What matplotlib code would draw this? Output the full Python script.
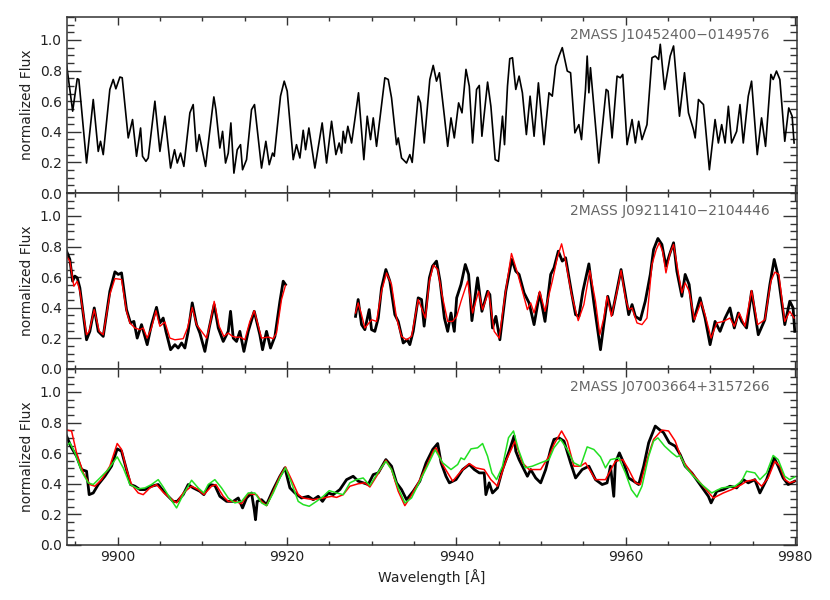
import numpy as np
import matplotlib
matplotlib.use("Agg")
import matplotlib.pyplot as plt
from matplotlib.ticker import MultipleLocator, FormatStrFormatter

# --- top panel: observed spectrum
top_wl = [9893.98, 9894.70, 9895.24, 9895.43, 9896.34, 9897.13, 9897.72, 9897.99, 9898.31, 9899.09,
          9899.49, 9899.80, 9900.28, 9900.55, 9901.26, 9901.77, 9902.24, 9902.72, 9902.95, 9903.35,
          9903.62, 9904.41, 9905.00, 9905.59, 9906.26, 9906.73, 9907.05, 9907.44, 9907.83, 9908.54,
          9908.93, 9909.33, 9909.64, 9910.39, 9911.37, 9911.61, 9912.08, 9912.40, 9912.75, 9913.07,
          9913.38, 9913.74, 9914.13, 9914.52, 9914.76, 9915.23, 9915.82, 9916.17, 9917.00, 9917.51,
          9917.91, 9918.30, 9918.50, 9919.24, 9919.68, 9920.03, 9920.74, 9921.13, 9921.53, 9921.92,
          9922.20, 9922.59, 9923.30, 9924.16, 9924.68, 9925.27, 9925.78, 9926.17, 9926.45, 9926.64,
          9926.88, 9927.19, 9927.63, 9928.02, 9928.45, 9929.08, 9929.48, 9929.87, 9930.19, 9930.58,
          9931.56, 9931.96, 9932.35, 9932.94, 9933.14, 9933.53, 9934.12, 9934.51, 9934.79, 9935.50,
          9935.77, 9936.21, 9936.87, 9937.27, 9937.66, 9938.00, 9938.59, 9938.98, 9939.37, 9939.76,
          9940.27, 9940.67, 9941.14, 9941.53, 9941.92, 9942.39, 9942.71, 9943.02, 9943.69, 9944.08,
          9944.59, 9944.98, 9945.45, 9945.69, 9946.04, 9946.31, 9946.63, 9947.02, 9947.41, 9947.80,
          9948.27, 9948.71, 9949.18, 9949.69, 9950.35, 9950.94, 9951.33, 9951.73, 9952.12, 9952.51,
          9953.10, 9953.49, 9954.00, 9954.47, 9954.78, 9955.25, 9955.45, 9955.65, 9955.84, 9956.82,
          9957.69, 9957.92, 9958.39, 9958.98, 9959.37, 9959.65, 9960.16, 9960.75, 9961.14, 9961.53,
          9961.92, 9962.51, 9963.10, 9963.49, 9963.88, 9964.08, 9964.59, 9965.25, 9965.65, 9966.35,
          9966.94, 9967.41, 9968.00, 9968.20, 9968.59, 9969.18, 9969.88, 9970.55, 9970.94, 9971.33,
          9971.73, 9972.12, 9972.51, 9973.10, 9973.49, 9973.88, 9974.47, 9974.86, 9975.53, 9976.04,
          9976.51, 9977.14, 9977.41, 9977.80, 9978.20, 9978.78, 9979.25, 9979.65, 9979.88]
top_flux = [0.840, 0.535, 0.747, 0.742, 0.196, 0.611, 0.272, 0.338, 0.251, 0.677,
            0.742, 0.681, 0.758, 0.753, 0.360, 0.480, 0.240, 0.425, 0.240, 0.207,
            0.229, 0.600, 0.272, 0.502, 0.163, 0.283, 0.196, 0.261, 0.174, 0.524,
            0.578, 0.272, 0.382, 0.174, 0.628, 0.545, 0.294, 0.403, 0.196, 0.261,
            0.458, 0.130, 0.283, 0.316, 0.152, 0.218, 0.545, 0.578, 0.163, 0.338,
            0.185, 0.261, 0.240, 0.633, 0.731, 0.666, 0.218, 0.316, 0.229, 0.410,
            0.283, 0.425, 0.163, 0.458, 0.196, 0.469, 0.251, 0.327, 0.261, 0.403,
            0.327, 0.436, 0.327, 0.480, 0.655, 0.218, 0.502, 0.349, 0.491, 0.305,
            0.753, 0.742, 0.622, 0.316, 0.360, 0.229, 0.196, 0.251, 0.200, 0.633,
            0.589, 0.327, 0.742, 0.834, 0.731, 0.786, 0.502, 0.305, 0.491, 0.360,
            0.589, 0.524, 0.808, 0.698, 0.327, 0.677, 0.703, 0.371, 0.725, 0.567,
            0.218, 0.207, 0.502, 0.316, 0.698, 0.878, 0.884, 0.677, 0.764, 0.655,
            0.382, 0.633, 0.371, 0.720, 0.316, 0.655, 0.633, 0.830, 0.895, 0.950,
            0.797, 0.786, 0.393, 0.447, 0.349, 0.677, 0.895, 0.655, 0.819, 0.196,
            0.677, 0.666, 0.360, 0.764, 0.753, 0.775, 0.316, 0.480, 0.327, 0.469,
            0.349, 0.447, 0.884, 0.895, 0.873, 0.972, 0.677, 0.895, 0.961, 0.502,
            0.786, 0.524, 0.414, 0.360, 0.611, 0.578, 0.152, 0.480, 0.327, 0.447,
            0.327, 0.567, 0.327, 0.403, 0.578, 0.327, 0.633, 0.731, 0.251, 0.491,
            0.305, 0.775, 0.742, 0.797, 0.742, 0.338, 0.556, 0.502, 0.327]

# --- middle panel: observed (black) and model (red); NaN marks the data gap
mid_obs_wl = [9893.98, 9894.37, 9894.69, 9894.96, 9895.24, 9895.55, 9896.34, 9896.73, 9897.25, 9897.72,
              9898.31, 9899.09, 9899.69, 9900.08, 9900.47, 9901.06, 9901.53, 9901.93, 9902.32, 9902.83,
              9903.50, 9904.01, 9904.60, 9905.00, 9905.39, 9905.71, 9906.26, 9906.77, 9907.16, 9907.56,
              9907.95, 9908.34, 9908.82, 9909.33, 9909.72, 9910.31, 9910.82, 9911.41, 9911.89, 9912.48,
              9913.07, 9913.34, 9913.66, 9914.05, 9914.44, 9914.92, 9915.43, 9916.14, 9916.80, 9917.12,
              9917.59, 9918.06, 9918.58, 9919.17, 9919.56, 9919.83, 9924.00,
              9928.10, 9928.41, 9928.81, 9929.20, 9929.71, 9929.99, 9930.38, 9930.78, 9931.17, 9931.68,
              9932.15, 9932.74, 9933.14, 9933.73, 9934.20, 9934.51, 9934.91, 9935.50, 9935.89, 9936.20,
              9936.82, 9937.19, 9937.66, 9938.08, 9938.59, 9938.98, 9939.37, 9939.76, 9940.04, 9940.55,
              9941.06, 9941.45, 9941.84, 9942.51, 9943.02, 9943.69, 9943.96, 9944.27, 9944.67, 9945.14,
              9945.84, 9946.55, 9947.02, 9947.41, 9948.00, 9948.59, 9949.18, 9949.84, 9950.47, 9951.14,
              9951.53, 9952.04, 9952.51, 9952.90, 9953.61, 9954.08, 9954.47, 9954.94, 9955.65, 9956.24,
              9957.02, 9957.41, 9957.88, 9958.39, 9959.10, 9959.45, 9959.96, 9960.35, 9960.75, 9961.14,
              9961.73, 9962.31, 9962.90, 9963.29, 9963.80, 9964.27, 9964.75, 9965.18, 9965.65, 9966.04,
              9966.63, 9967.02, 9967.49, 9968.00, 9968.78, 9969.37, 9969.96, 9970.55, 9971.14, 9971.73,
              9972.31, 9972.82, 9973.29, 9973.69, 9974.27, 9974.86, 9975.65, 9976.43, 9977.02, 9977.53,
              9978.00, 9978.78, 9979.37, 9979.76, 9979.96]
mid_obs_flux = [0.770, 0.716, 0.574, 0.607, 0.596, 0.530, 0.191, 0.246, 0.399, 0.246,
                0.213, 0.508, 0.635, 0.618, 0.628, 0.388, 0.301, 0.311, 0.202, 0.290,
                0.159, 0.290, 0.403, 0.301, 0.333, 0.246, 0.126, 0.159, 0.137, 0.170,
                0.137, 0.246, 0.432, 0.290, 0.235, 0.115, 0.268, 0.421, 0.268, 0.180,
                0.246, 0.377, 0.202, 0.180, 0.246, 0.115, 0.246, 0.377, 0.224, 0.126,
                0.246, 0.137, 0.213, 0.442, 0.574, 0.552, np.nan,
                0.344, 0.454, 0.290, 0.257, 0.388, 0.257, 0.246, 0.333, 0.530, 0.650,
                0.574, 0.355, 0.311, 0.170, 0.191, 0.159, 0.246, 0.465, 0.454, 0.280,
                0.596, 0.672, 0.705, 0.574, 0.333, 0.246, 0.366, 0.246, 0.465, 0.552,
                0.683, 0.618, 0.316, 0.596, 0.377, 0.508, 0.486, 0.268, 0.344, 0.191,
                0.508, 0.716, 0.639, 0.618, 0.497, 0.432, 0.290, 0.497, 0.311, 0.618,
                0.661, 0.770, 0.705, 0.727, 0.497, 0.355, 0.344, 0.508, 0.687, 0.432,
                0.126, 0.290, 0.475, 0.355, 0.552, 0.650, 0.486, 0.355, 0.421, 0.344,
                0.322, 0.443, 0.618, 0.781, 0.853, 0.814, 0.672, 0.749, 0.825, 0.639,
                0.475, 0.618, 0.552, 0.311, 0.465, 0.333, 0.159, 0.311, 0.246, 0.333,
                0.399, 0.268, 0.366, 0.311, 0.268, 0.508, 0.224, 0.322, 0.552, 0.716,
                0.607, 0.290, 0.443, 0.399, 0.246]

mid_mod_wl = [9893.98, 9894.37, 9894.84, 9895.24, 9895.55, 9896.34, 9896.65, 9897.25, 9897.84, 9898.31,
              9899.09, 9899.69, 9900.47, 9901.06, 9901.46, 9902.05, 9902.64, 9903.03, 9903.50, 9904.01,
              9904.53, 9905.00, 9905.59, 9906.18, 9906.77, 9907.75, 9908.26, 9908.82, 9909.33, 9909.92,
              9910.51, 9910.90, 9911.41, 9912.00, 9912.55, 9913.07, 9913.58, 9914.05, 9914.44, 9915.03,
              9915.62, 9916.14, 9917.00, 9917.79, 9918.38, 9918.77, 9919.36, 9919.83, 9924.00,
              9928.10, 9928.41, 9928.81, 9929.20, 9929.99, 9930.58, 9931.17, 9931.76, 9932.35, 9932.94,
              9933.53, 9934.12, 9934.71, 9935.50, 9936.35, 9936.82, 9937.29, 9937.80, 9938.31, 9938.98,
              9939.57, 9940.04, 9940.55, 9941.33, 9941.92, 9942.63, 9943.10, 9943.80, 9944.47, 9945.06,
              9945.76, 9946.51, 9947.22, 9947.80, 9948.39, 9948.78, 9949.18, 9949.84, 9950.47, 9951.33,
              9951.92, 9952.43, 9952.90, 9953.61, 9954.39, 9955.06, 9955.76, 9956.43, 9956.94, 9957.41,
              9957.80, 9958.31, 9958.98, 9959.45, 9959.96, 9960.35, 9960.75, 9961.33, 9961.92, 9962.51,
              9963.10, 9963.61, 9963.96, 9964.35, 9964.75, 9965.25, 9965.65, 9966.24, 9966.63, 9967.02,
              9967.49, 9968.12, 9968.90, 9969.37, 9970.08, 9970.75, 9971.53, 9972.31, 9972.82, 9973.41,
              9974.08, 9974.86, 9975.57, 9976.43, 9977.14, 9977.61, 9978.08, 9978.78, 9979.37, 9979.88]
mid_mod_flux = [0.738, 0.705, 0.541, 0.573, 0.508, 0.224, 0.246, 0.388, 0.246, 0.224,
                0.486, 0.591, 0.585, 0.377, 0.301, 0.268, 0.257, 0.268, 0.202, 0.268,
                0.381, 0.279, 0.307, 0.202, 0.191, 0.198, 0.268, 0.403, 0.290, 0.246,
                0.202, 0.290, 0.442, 0.279, 0.213, 0.235, 0.213, 0.207, 0.209, 0.191,
                0.311, 0.381, 0.202, 0.209, 0.198, 0.235, 0.454, 0.547, np.nan,
                0.366, 0.432, 0.355, 0.268, 0.322, 0.311, 0.508, 0.628, 0.552, 0.333,
                0.213, 0.191, 0.213, 0.454, 0.333, 0.574, 0.679, 0.650, 0.486, 0.311,
                0.311, 0.344, 0.442, 0.574, 0.366, 0.508, 0.388, 0.508, 0.246, 0.202,
                0.486, 0.755, 0.628, 0.508, 0.388, 0.432, 0.366, 0.508, 0.377, 0.574,
                0.727, 0.818, 0.705, 0.486, 0.316, 0.421, 0.644, 0.442, 0.224, 0.333,
                0.475, 0.344, 0.508, 0.644, 0.465, 0.388, 0.399, 0.301, 0.290, 0.333,
                0.683, 0.781, 0.825, 0.770, 0.628, 0.759, 0.814, 0.618, 0.497, 0.563,
                0.508, 0.322, 0.438, 0.355, 0.202, 0.301, 0.311, 0.333, 0.279, 0.366,
                0.279, 0.513, 0.290, 0.322, 0.574, 0.633, 0.618, 0.311, 0.377, 0.333]

# --- bottom panel: observed (black), red model, green model
bot_obs_wl = [9893.98, 9894.57, 9895.16, 9895.75, 9896.34, 9896.65, 9897.13, 9897.72, 9898.50, 9899.29,
              9899.96, 9900.47, 9901.06, 9901.53, 9902.05, 9902.64, 9903.23, 9904.01, 9904.80, 9905.59,
              9906.18, 9906.57, 9907.04, 9907.75, 9908.34, 9908.93, 9909.72, 9910.19, 9910.90, 9911.49,
              9912.08, 9912.87, 9913.66, 9914.25, 9914.76, 9915.23, 9915.82, 9916.14, 9916.29, 9916.49,
              9917.00, 9917.59, 9918.38, 9919.17, 9919.76, 9920.35, 9920.94, 9921.72, 9922.51, 9923.10,
              9923.69, 9924.20, 9924.87, 9925.46, 9926.25, 9927.04, 9927.82, 9928.41, 9929.00, 9929.59,
              9930.19, 9930.78, 9931.68, 9932.35, 9932.94, 9933.53, 9934.12, 9934.91, 9935.69, 9936.43,
              9937.22, 9937.80, 9938.20, 9938.78, 9939.18, 9939.96, 9940.75, 9941.53, 9942.12, 9942.71,
              9943.29, 9943.49, 9943.88, 9944.27, 9944.86, 9945.45, 9946.24, 9946.82, 9947.02, 9947.41,
              9948.00, 9948.39, 9948.78, 9949.37, 9949.96, 9950.55, 9951.14, 9951.53, 9952.12, 9952.71,
              9953.49, 9954.08, 9954.86, 9955.65, 9956.43, 9957.22, 9957.80, 9958.20, 9958.59, 9958.78,
              9959.25, 9959.76, 9960.35, 9960.94, 9961.53, 9962.12, 9962.71, 9963.49, 9963.96, 9964.47,
              9965.14, 9965.84, 9966.43, 9967.02, 9967.80, 9968.78, 9969.76, 9970.08, 9970.75, 9971.53,
              9972.31, 9973.10, 9973.88, 9974.47, 9975.25, 9975.84, 9976.63, 9977.53, 9978.00, 9978.59,
              9979.18, 9979.96]
bot_obs_flux = [0.712, 0.635, 0.580, 0.493, 0.482, 0.329, 0.340, 0.395, 0.449, 0.515,
                0.628, 0.613, 0.493, 0.395, 0.384, 0.362, 0.362, 0.384, 0.395, 0.340,
                0.307, 0.285, 0.285, 0.329, 0.395, 0.373, 0.351, 0.329, 0.395, 0.389,
                0.318, 0.285, 0.285, 0.307, 0.242, 0.307, 0.340, 0.231, 0.165, 0.285,
                0.296, 0.264, 0.362, 0.449, 0.504, 0.373, 0.340, 0.307, 0.318, 0.296,
                0.318, 0.285, 0.340, 0.329, 0.362, 0.427, 0.449, 0.417, 0.406, 0.395,
                0.460, 0.471, 0.558, 0.515, 0.406, 0.362, 0.296, 0.351, 0.417, 0.537,
                0.625, 0.663, 0.537, 0.449, 0.406, 0.427, 0.493, 0.526, 0.493, 0.471,
                0.471, 0.329, 0.406, 0.340, 0.373, 0.493, 0.613, 0.712, 0.613, 0.558,
                0.493, 0.449, 0.493, 0.438, 0.406, 0.493, 0.625, 0.690, 0.700, 0.679,
                0.537, 0.438, 0.493, 0.515, 0.427, 0.395, 0.406, 0.515, 0.318, 0.537,
                0.602, 0.537, 0.438, 0.417, 0.395, 0.515, 0.668, 0.777, 0.755, 0.734,
                0.668, 0.646, 0.591, 0.515, 0.471, 0.395, 0.318, 0.275, 0.351, 0.362,
                0.384, 0.373, 0.427, 0.406, 0.427, 0.340, 0.427, 0.569, 0.515, 0.438,
                0.395, 0.417]

bot_red_wl = [9893.98, 9894.57, 9895.16, 9895.95, 9896.73, 9897.32, 9898.11, 9899.09, 9899.96, 9900.47,
              9901.06, 9901.65, 9902.44, 9903.03, 9903.82, 9904.60, 9905.39, 9906.18, 9906.97, 9907.75,
              9908.74, 9909.52, 9910.19, 9911.10, 9911.61, 9912.48, 9913.07, 9913.85, 9914.64, 9915.43,
              9916.41, 9917.00, 9917.59, 9918.38, 9919.17, 9919.83, 9920.54, 9921.33, 9921.92, 9923.10,
              9924.28, 9925.27, 9925.86, 9926.64, 9927.43, 9928.41, 9929.20, 9929.79, 9930.58, 9931.68,
              9932.35, 9933.14, 9933.92, 9934.51, 9935.50, 9936.48, 9937.27, 9937.61, 9938.39, 9939.57,
              9940.55, 9941.53, 9942.31, 9943.29, 9944.08, 9944.86, 9945.84, 9946.94, 9947.80, 9948.59,
              9949.96, 9950.94, 9951.53, 9952.43, 9953.10, 9953.88, 9954.67, 9955.25, 9956.43, 9957.61,
              9958.78, 9959.65, 9960.35, 9961.14, 9961.73, 9962.51, 9963.29, 9964.27, 9965.06, 9965.84,
              9966.63, 9967.80, 9968.98, 9970.35, 9971.53, 9972.51, 9973.69, 9974.27, 9975.25, 9976.04,
              9976.82, 9977.61, 9978.20, 9978.78, 9979.37, 9979.96]
bot_red_flux = [0.751, 0.745, 0.602, 0.471, 0.395, 0.384, 0.427, 0.515, 0.663, 0.625,
                0.493, 0.395, 0.340, 0.329, 0.373, 0.395, 0.345, 0.307, 0.275, 0.340,
                0.384, 0.362, 0.329, 0.384, 0.395, 0.318, 0.285, 0.285, 0.270, 0.335,
                0.329, 0.285, 0.257, 0.351, 0.449, 0.510, 0.427, 0.329, 0.307, 0.296,
                0.307, 0.318, 0.311, 0.329, 0.384, 0.400, 0.406, 0.379, 0.449, 0.554,
                0.493, 0.351, 0.257, 0.307, 0.406, 0.515, 0.613, 0.635, 0.525, 0.417,
                0.482, 0.532, 0.504, 0.493, 0.427, 0.384, 0.547, 0.679, 0.537, 0.493,
                0.493, 0.580, 0.657, 0.745, 0.679, 0.515, 0.515, 0.537, 0.427, 0.427,
                0.547, 0.558, 0.493, 0.406, 0.395, 0.558, 0.690, 0.751, 0.745, 0.679,
                0.558, 0.471, 0.395, 0.307, 0.340, 0.362, 0.395, 0.417, 0.427, 0.384,
                0.438, 0.547, 0.515, 0.427, 0.406, 0.417]

bot_green_wl = [9893.98, 9894.37, 9894.96, 9895.75, 9896.54, 9897.13, 9897.92, 9898.90, 9899.96, 9900.67,
                9901.46, 9902.44, 9903.23, 9904.01, 9904.80, 9905.39, 9906.18, 9906.97, 9907.75, 9908.74,
                9909.52, 9910.19, 9910.70, 9911.49, 9912.28, 9913.07, 9913.85, 9914.64, 9915.43, 9916.21,
                9917.00, 9917.59, 9918.38, 9919.17, 9919.83, 9920.54, 9921.33, 9921.92, 9922.63, 9923.49,
                9924.28, 9924.99, 9925.86, 9926.64, 9927.43, 9928.22, 9929.00, 9929.79, 9930.58, 9931.68,
                9932.35, 9933.14, 9933.92, 9934.71, 9935.50, 9936.48, 9937.50, 9938.39, 9939.37, 9940.16,
                9940.55, 9940.94, 9941.73, 9942.51, 9943.10, 9943.69, 9944.20, 9944.75, 9945.45, 9946.16,
                9946.75, 9947.33, 9948.12, 9948.98, 9949.96, 9950.94, 9951.53, 9952.31, 9953.10, 9953.88,
                9954.67, 9955.45, 9956.24, 9957.02, 9957.61, 9958.20, 9959.18, 9959.96, 9960.67, 9961.33,
                9961.92, 9962.71, 9963.29, 9963.80, 9964.59, 9965.45, 9966.04, 9966.43, 9967.02, 9967.80,
                9968.98, 9970.16, 9971.33, 9972.90, 9973.69, 9974.27, 9975.25, 9975.84, 9976.63, 9977.41,
                9978.00, 9978.78, 9979.37, 9979.96]
bot_green_flux = [0.647, 0.668, 0.602, 0.482, 0.406, 0.395, 0.438, 0.493, 0.576, 0.504,
                  0.395, 0.367, 0.373, 0.395, 0.427, 0.379, 0.307, 0.242, 0.329, 0.423,
                  0.373, 0.340, 0.395, 0.427, 0.373, 0.307, 0.275, 0.285, 0.340, 0.340,
                  0.275, 0.257, 0.340, 0.438, 0.504, 0.406, 0.285, 0.264, 0.253, 0.285,
                  0.318, 0.355, 0.340, 0.329, 0.406, 0.427, 0.438, 0.388, 0.460, 0.547,
                  0.493, 0.373, 0.275, 0.307, 0.395, 0.504, 0.622, 0.537, 0.493, 0.526,
                  0.569, 0.558, 0.628, 0.635, 0.663, 0.580, 0.471, 0.427, 0.515, 0.701,
                  0.745, 0.624, 0.504, 0.515, 0.537, 0.558, 0.635, 0.690, 0.624, 0.537,
                  0.515, 0.641, 0.624, 0.576, 0.504, 0.558, 0.569, 0.471, 0.362, 0.313,
                  0.384, 0.580, 0.679, 0.700, 0.646, 0.602, 0.576, 0.585, 0.515, 0.460,
                  0.395, 0.340, 0.373, 0.384, 0.417, 0.482, 0.471, 0.427, 0.471, 0.585,
                  0.558, 0.449, 0.427, 0.445]

names = ["2MASS J10452400\u22120149576", "2MASS J09211410\u22122104446", "2MASS J07003664+3157266"]

axcol = "#333333"
plt.rcParams['font.family'] = ['DejaVu Sans']

fig = plt.figure(figsize=(8.3, 6), dpi=100)
left, width = 0.0804, 0.8796
h = 0.2933
bottoms = [0.0917 + 2 * h, 0.0917 + h, 0.0917]
axes = [fig.add_axes([left, b, width, h]) for b in bottoms]

axes[0].plot(top_wl, top_flux, color="black", lw=1.2)
axes[1].plot(mid_obs_wl, mid_obs_flux, color="black", lw=2.0)
axes[1].plot(mid_mod_wl, mid_mod_flux, color="red", lw=1.0)
axes[2].plot(bot_obs_wl, bot_obs_flux, color="black", lw=2.0)
axes[2].plot(bot_red_wl, bot_red_flux, color="red", lw=1.1)
axes[2].plot(bot_green_wl, bot_green_flux, color="#22e022", lw=1.1)

for i, ax in enumerate(axes):
    ax.set_xlim(9894, 9980.2)
    ax.set_ylim(0, 1.15)
    ax.xaxis.set_major_locator(MultipleLocator(20))
    ax.xaxis.set_minor_locator(MultipleLocator(5))
    ax.yaxis.set_major_locator(MultipleLocator(0.2))
    ax.yaxis.set_minor_locator(MultipleLocator(0.05))
    ax.yaxis.set_major_formatter(FormatStrFormatter("%.1f"))
    ax.tick_params(axis="both", which="both", direction="in", top=True, right=True,
                   colors=axcol, labelcolor="#222222", labelsize=10)
    ax.tick_params(axis="y", which="major", length=10, width=1.0)
    ax.tick_params(axis="y", which="minor", length=5, width=1.0)
    ax.tick_params(axis="x", which="major", length=6, width=1.0)
    ax.tick_params(axis="x", which="minor", length=3, width=1.0)
    for sp in ax.spines.values():
        sp.set_color(axcol)
        sp.set_linewidth(1.1)
    ax.set_ylabel("normalized Flux", fontsize=10, color="#222222", labelpad=4)
    ax.text(0.963, 0.898, names[i], transform=ax.transAxes, ha="right", va="center",
            fontsize=10, color="#666666")
    if i < 2:
        ax.tick_params(axis="x", labelbottom=False)

axes[2].set_xlabel("Wavelength [\u00c5]", fontsize=10, color="#222222")

fig.savefig("out.png", dpi=100)
